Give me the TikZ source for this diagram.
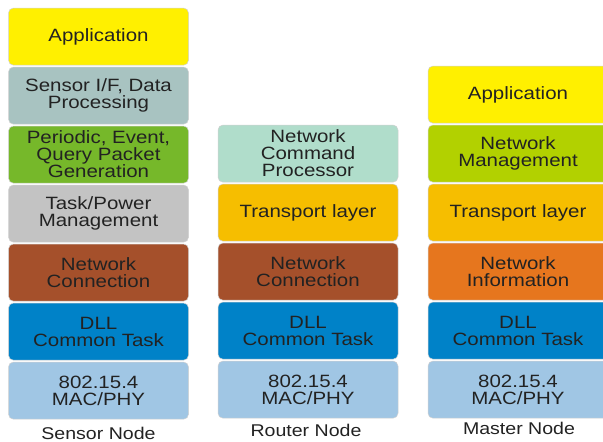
\documentclass[tikz,border=0pt]{standalone}
\usepackage{fontspec}
\setmainfont{Liberation Sans}[FakeStretch=1.15]
\usepackage{tikz}
\usetikzlibrary{positioning}
\usepackage{xcolor}

\definecolor{appyellow}{HTML}{FFF000}
\definecolor{sensorif}{HTML}{A8C3C1}
\definecolor{periodic}{HTML}{76B82A}
\definecolor{taskpow}{HTML}{C3C3C3}
\definecolor{netconn}{HTML}{A5502B}
\definecolor{dllblue}{HTML}{0082C8}
\definecolor{macphy}{HTML}{A0C6E4}
\definecolor{ncpgreen}{HTML}{B0DDCB}
\definecolor{transport}{HTML}{F6BE00}
\definecolor{netmgmt}{HTML}{B2D100}
\definecolor{netinfo}{HTML}{E6761E}
\definecolor{txt}{HTML}{222222}

\begin{document}
\begin{tikzpicture}[x=1pt, y=-1pt,
        node distance=1.8pt,
        layer/.style={rectangle, rounded corners=5pt, draw=black!18, line width=0.5pt,
            minimum width=180pt, minimum height=57.2pt, inner sep=0pt, outer sep=0pt,
            align=center, text=txt, font=\fontsize{17.8}{17}\selectfont},
        caption/.style={draw=none, text=txt, inner sep=0pt, font=\fontsize{17}{17}\selectfont}
    ]

    \useasboundingbox (0,0) rectangle (603,442);
    \clip (0,0) rectangle (603,442);

    %sensor node
    \node[layer, fill=appyellow, anchor=north] (s1) at (98.5,8) {Application};
    \node[layer, fill=sensorif, below=of s1] (s2) {Sensor I/F, Data\\Processing};
    \node[layer, fill=periodic, below=of s2] (s3) {Periodic, Event,\\Query Packet\\Generation};
    \node[layer, fill=taskpow, below=of s3] (s4) {Task/Power\\Management};
    \node[layer, fill=netconn, below=of s4] (s5) {Network\\Connection};
    \node[layer, fill=dllblue, below=of s5] (s6) {DLL\\Common Task};
    \node[layer, fill=macphy, below=of s6] (s7) {802.15.4\\MAC/PHY};
    \node[caption] (sensor) at (98.5,433) {Sensor Node};

    %router node
    \node[layer, fill=ncpgreen, anchor=north] (r1) at (308,125) {Network\\Command\\Processor};
    \node[layer, fill=transport, below=of r1] (r2) {Transport layer};
    \node[layer, fill=netconn, below=of r2] (r3) {Network\\Connection};
    \node[layer, fill=dllblue, below=of r3] (r4) {DLL\\Common Task};
    \node[layer, fill=macphy, below=of r4] (r5) {802.15.4\\MAC/PHY};
    \node[caption] (router) at (306,430) {Router Node};

    %master node
    \node[layer, fill=appyellow, anchor=north] (m1) at (518,66) {Application};
    \node[layer, fill=netmgmt, below=of m1] (m2) {Network\\Management};
    \node[layer, fill=transport, below=of m2] (m3) {Transport layer};
    \node[layer, fill=netinfo, below=of m3] (m4) {Network\\Information};
    \node[layer, fill=dllblue, below=of m4] (m5) {DLL\\Common Task};
    \node[layer, fill=macphy, below=of m5] (m6) {802.15.4\\MAC/PHY};
    \node[caption] (master) at (519,428) {Master Node};

\end{tikzpicture}
\end{document}
